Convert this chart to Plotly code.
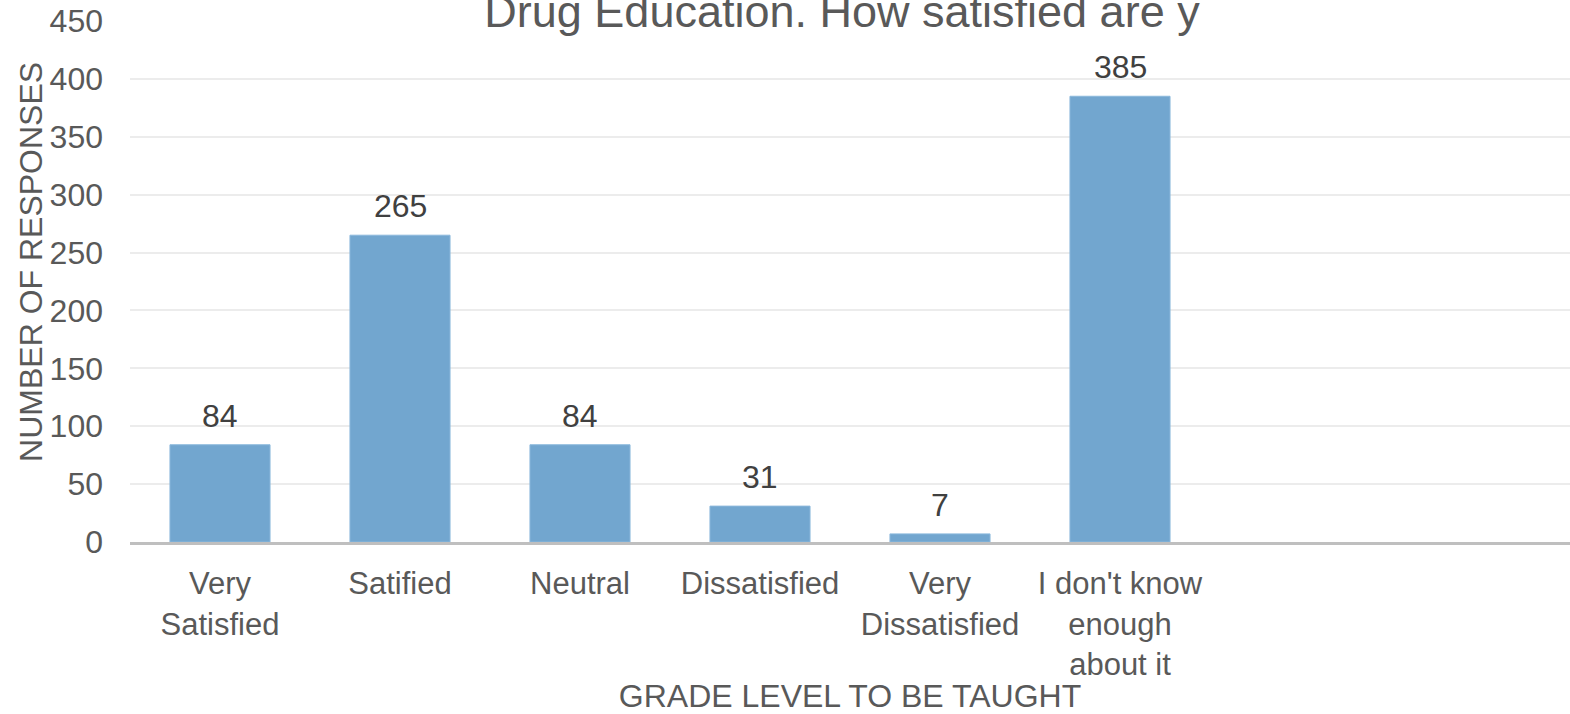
import plotly.graph_objects as go

# Survey responses per satisfaction level
categories = ["Very<br>Satisfied", "Satified", "Neutral", "Dissatisfied",
              "Very<br>Dissatisfied", "I don't know<br>enough<br>about it"]
responses = [84, 265, 84, 31, 7, 385]
y_ticks = [0, 50, 100, 150, 200, 250, 300, 350, 400, 450]

positions = list(range(len(categories)))
FONT = "Liberation Sans, Arial, sans-serif"
TICK_GREY = "#595959"
LABEL_GREY = "#404040"

fig = go.Figure(
    go.Bar(
        x=positions,
        y=responses,
        width=0.556,
        marker=dict(color="#72a6cf", line=dict(color="#8bb8dc", width=1)),
        hoverinfo="x+y",
    )
)

# Value labels above each bar
for xp, v in zip(positions, responses):
    fig.add_annotation(
        x=xp, y=v, text=str(v), showarrow=False,
        xref="x", yref="y", yanchor="bottom", yshift=9,
        font=dict(family=FONT, size=32, color=LABEL_GREY),
    )

# Vertical axis title, drawn as a rotated annotation
fig.add_annotation(
    text="NUMBER OF RESPONSES", textangle=-90, showarrow=False,
    xref="paper", yref="paper", x=-0.0693, y=0.538,
    xanchor="center", yanchor="middle",
    font=dict(family=FONT, size=32, color=TICK_GREY),
)

fig.update_layout(
    width=1570, height=714,
    margin=dict(l=130, r=0, t=21, b=172),
    paper_bgcolor="white", plot_bgcolor="white",
    showlegend=False,
    bargap=0.444,
    title=dict(
        text="Drug Education. How satisfied are y",
        x=0.5363, xanchor="center", xref="container",
        y=1.0, yanchor="top", yref="container", pad=dict(t=-5),
        font=dict(family=FONT, size=45, color=TICK_GREY),
    ),
    xaxis=dict(
        range=[-0.5, 7.5],
        tickmode="array", tickvals=positions, ticktext=categories,
        showgrid=False, zeroline=False,
        showline=True, linecolor="#bfbfbf", linewidth=3,
        ticks="", ticklabelstandoff=12,
        tickfont=dict(family=FONT, size=31, color=TICK_GREY),
        title=dict(text="GRADE LEVEL TO BE TAUGHT", standoff=17,
                   font=dict(family=FONT, size=32, color=TICK_GREY)),
        automargin=False,
    ),
    yaxis=dict(
        range=[0, 450],
        tickmode="array", tickvals=y_ticks,
        showgrid=True, gridcolor="#ececec", gridwidth=2,
        zeroline=False, showline=False,
        ticks="", ticklabelstandoff=26,
        tickfont=dict(family=FONT, size=32, color=TICK_GREY),
        automargin=False,
    ),
)

fig.write_html("out.html")
